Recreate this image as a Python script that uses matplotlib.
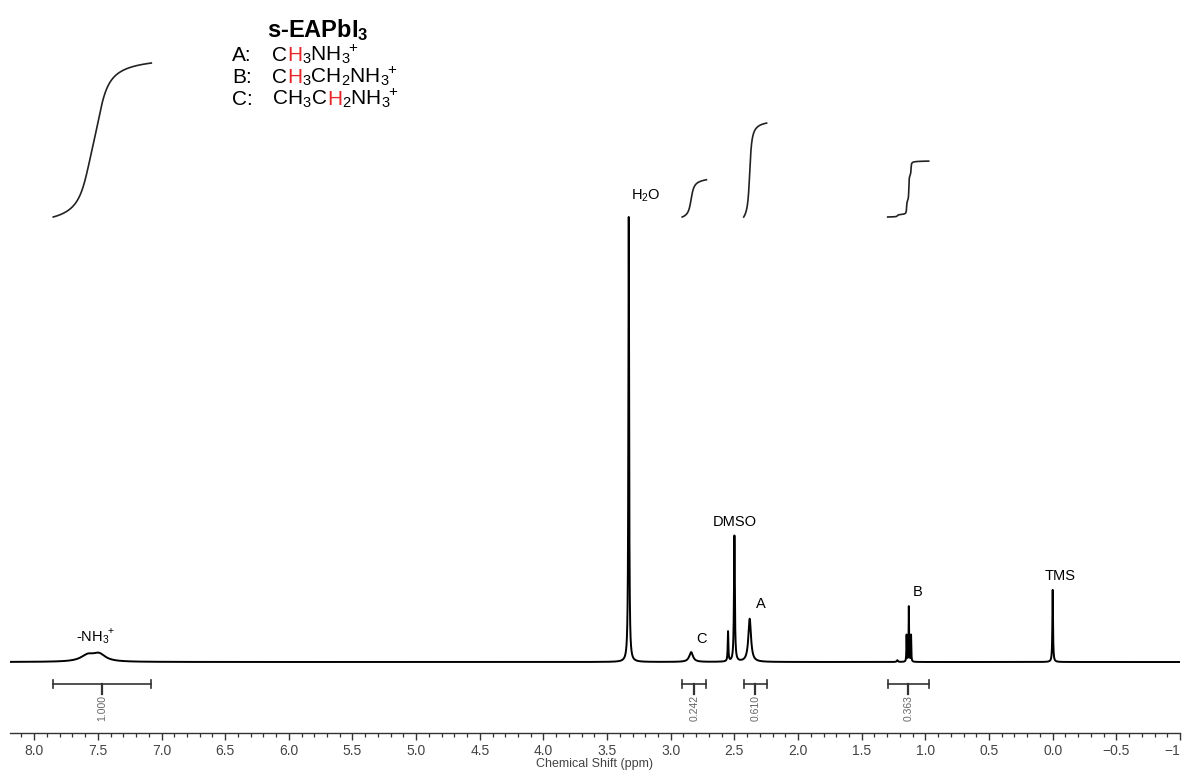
import numpy as np
import matplotlib
matplotlib.use("Agg")
import matplotlib.pyplot as plt
import matplotlib.transforms as mtransforms
from matplotlib.ticker import MultipleLocator, FuncFormatter

plt.rcParams['font.family'] = ['Liberation Sans', 'DejaVu Sans']
plt.rcParams['mathtext.fontset'] = 'custom'
plt.rcParams['mathtext.rm'] = 'Liberation Sans'
plt.rcParams['mathtext.it'] = 'Liberation Sans:italic'
plt.rcParams['mathtext.bf'] = 'Liberation Sans:bold'

# ---------------- data ----------------
# peak list: chemical shift (ppm), relative height, FWHM (ppm)
peak_ppm = [7.58, 7.49, 3.33, 2.84, 2.55, 2.50, 2.38, 1.22, 1.1475, 1.130, 1.1125, 0.00]
peak_height = [0.014, 0.016, 1.000, 0.022, 0.067, 0.283, 0.097, 0.004, 0.060, 0.124, 0.060, 0.162]
peak_fwhm = [0.13, 0.12, 0.007, 0.035, 0.006, 0.008, 0.025, 0.010, 0.004, 0.004, 0.004, 0.006]

# peak annotations: text, ppm, height
label_text = ["H$_2$O", "DMSO", "A", "C", "B", "TMS", "-NH$_3$"]
label_sup = ["", "", "", "", "", "", "+"]
label_ppm = [3.20, 2.50, 2.29, 2.76, 1.06, -0.06, 7.54]
label_y = [1.03, 0.30, 0.115, 0.035, 0.142, 0.178, 0.035]

# integration regions (start ppm, end ppm) and values
int_start = [7.85, 2.91, 2.427, 1.296]
int_end = [7.08, 2.72, 2.247, 0.974]
int_value = [1.000, 0.242, 0.610, 0.363]
int_label = ["1.000", "0.242", "0.610", "0.363"]

tick_major = 0.5
tick_minor = 0.1
x_left, x_right = 8.19, -1.0

# ---------------- figure ----------------
W, H = 1184, 774
fig = plt.figure(figsize=(W / 100, H / 100), dpi=100)
ax_bottom_px = 733
ax = fig.add_axes([10 / W, 1 - ax_bottom_px / H, 1170 / W, ax_bottom_px / H])

# spectrum
ppm = np.arange(x_right, x_left + 0.00025, 0.00025)[::-1]
spec = np.zeros_like(ppm)
for p, h, w in zip(peak_ppm, peak_height, peak_fwhm):
    spec += h / (1 + ((ppm - p) / (w / 2)) ** 2)
ax.plot(ppm, spec, color='black', lw=1.4, solid_joinstyle='round')

# integral curves
int_base = 1.0
int_scale = 0.346
for s, e, v in zip(int_start, int_end, int_value):
    m = (ppm <= s) & (ppm >= e)
    xs = ppm[m]
    ys = spec[m]
    cum = np.concatenate([[0], np.cumsum((ys[1:] + ys[:-1]) / 2 * np.abs(np.diff(xs)))])
    cum = cum / cum[-1]
    ax.plot(xs, int_base + cum * v * int_scale, color='#222222', lw=1.2)

# integration bars
bar_y = -0.049
cap = 0.009
for s, e, lab in zip(int_start, int_end, int_label):
    c = (s + e) / 2
    ax.plot([s, e], [bar_y, bar_y], color='#333333', lw=1.2)
    ax.plot([s, s], [bar_y - cap, bar_y + cap], color='#333333', lw=1.2)
    ax.plot([e, e], [bar_y - cap, bar_y + cap], color='#333333', lw=1.2)
    ax.plot([c, c], [bar_y, bar_y - 0.022], color='#333333', lw=1.6)
    ax.text(c, bar_y - 0.025, lab, rotation=90, ha='center', va='top',
            fontsize=7.5, color='#666666')

# peak labels
for t, sup, p, y in zip(label_text, label_sup, label_ppm, label_y):
    tt = ax.text(p, y, t, ha='center', va='bottom', fontsize=10.5, color='black')
    if sup:
        ax.annotate(sup, xy=(1.0, 0.62), xycoords=tt, xytext=(-1.5, 0),
                    textcoords='offset points', ha='left', va='bottom',
                    fontsize=7.5, color='black')

ax.set_xlim(x_left, x_right)
ax.set_ylim(-(ax_bottom_px - 662) / 445, 662 / 445)
for sp in ['left', 'right', 'top']:
    ax.spines[sp].set_visible(False)
ax.spines['bottom'].set_color('#333333')
ax.spines['bottom'].set_linewidth(1.0)
ax.set_yticks([])
ax.xaxis.set_major_locator(MultipleLocator(tick_major))
ax.xaxis.set_minor_locator(MultipleLocator(tick_minor))


def fmt(v, pos):
    s = f"{v:.1f}"
    if s == "-0.0":
        s = "0.0"
    if s == "-1.0":
        s = "-1"
    return s.replace('-', '\u2212')


ax.xaxis.set_major_formatter(FuncFormatter(fmt))
ax.tick_params(axis='x', which='major', direction='out', length=5, width=1.0,
               color='#333333', labelsize=10, labelcolor='#444444', pad=3)
ax.tick_params(axis='x', which='minor', direction='out', length=3, width=0.9,
               color='#333333')
ax.set_xlabel("Chemical Shift (ppm)", fontsize=9, color='#444444', labelpad=0)

# ---------------- title / legend with colored H ----------------
fig.canvas.draw()
r = fig.canvas.get_renderer()

for lbl in ax.xaxis.get_majorticklabels():
    if lbl.get_text() == '\u22121':
        lbl.set_horizontalalignment('right')


def rich(x, y, parts, size):
    cur = x
    for s, c in parts:
        t = fig.text(cur / W, 1 - y / H, s, color=c, fontsize=size,
                     ha='left', va='baseline')
        bb = t.get_window_extent(renderer=r)
        cur += bb.width
    return cur


fig.text(267 / W, 1 - 37 / H, r"s-EAPbI$_\mathbf{3}$", fontsize=17,
         fontweight='bold', ha='left', va='baseline')

red = '#e8262a'
lines = [
    ("A:", [("C", 'black'), ("H", red), ("$_3$NH$_3$", 'black')]),
    ("B:", [("C", 'black'), ("H", red), ("$_3$CH$_2$NH$_3$", 'black')]),
    ("C:", [("CH$_3$C", 'black'), ("H", red), ("$_2$NH$_3$", 'black')]),
]
baselines = [61, 83, 105]
for (lead, parts), yb in zip(lines, baselines):
    fig.text(232 / W, 1 - yb / H, lead, fontsize=15, ha='left', va='baseline')
    end_x = rich(272, yb, parts, 15)
    fig.text(0, 0, "+", fontsize=11, ha='left', va='baseline',
             transform=mtransforms.Affine2D().translate(end_x - 2.5, H - yb + 9))

fig.savefig("out.png", dpi=100)
